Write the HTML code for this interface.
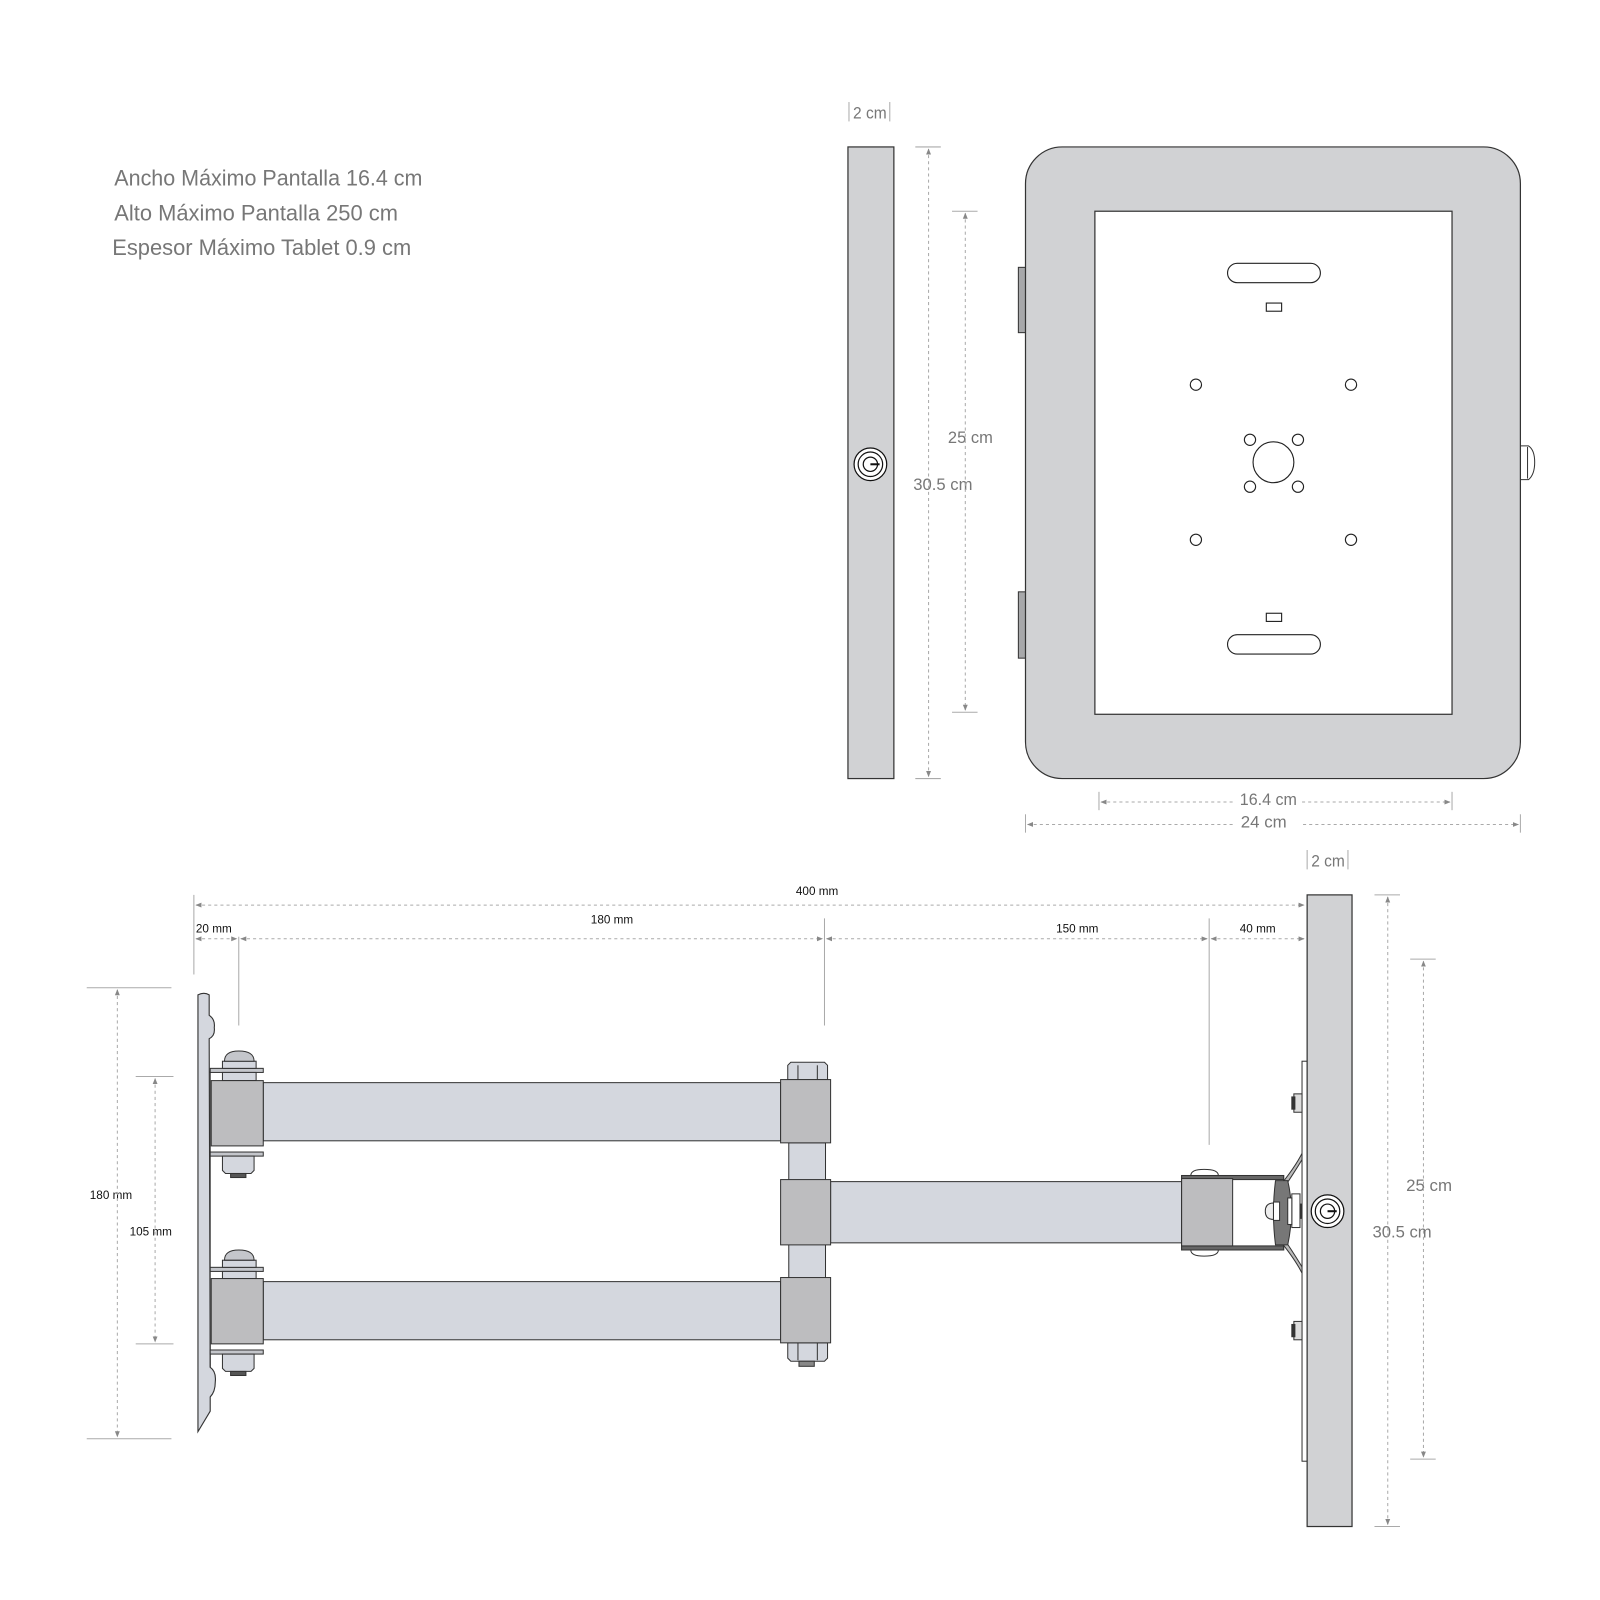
<!DOCTYPE html>
<html><head><meta charset="utf-8"><style>html,body{margin:0;padding:0;background:#fff}svg{display:block}</style></head>
<body>
<svg width="1600" height="1600" viewBox="0 0 1600 1600" xmlns="http://www.w3.org/2000/svg">
<defs>
<marker id="a" viewBox="0 0 10 10" refX="9" refY="5" markerWidth="6" markerHeight="6" orient="auto-start-reverse"><path d="M0,1 L10,5 L0,9 z" fill="#888"/></marker>
</defs>
<g transform="scale(1.0204)">
<g font-family="Liberation Sans, sans-serif" fill="#777" font-size="22">
<text x="112" y="182" textLength="302" lengthAdjust="spacingAndGlyphs">Ancho Máximo Pantalla 16.4 cm</text>
<text x="112" y="216" textLength="278" lengthAdjust="spacingAndGlyphs">Alto Máximo Pantalla  250 cm</text>
<text x="110" y="250" textLength="293" lengthAdjust="spacingAndGlyphs">Espesor Máximo Tablet  0.9 cm</text>
</g>
<g font-family="Liberation Sans, sans-serif" fill="#777" font-size="16">
<text x="836" y="116" textLength="33" lengthAdjust="spacingAndGlyphs">2 cm</text>
<text x="929" y="434" textLength="44" lengthAdjust="spacingAndGlyphs">25 cm</text>
<text x="895" y="480" textLength="58" lengthAdjust="spacingAndGlyphs">30.5 cm</text>
<text x="1215" y="789" textLength="56" lengthAdjust="spacingAndGlyphs">16.4 cm</text>
<text x="1216" y="811" textLength="45" lengthAdjust="spacingAndGlyphs">24 cm</text>
<text x="1285" y="849" textLength="33" lengthAdjust="spacingAndGlyphs">2 cm</text>
<text x="1378" y="1167" textLength="45" lengthAdjust="spacingAndGlyphs">25 cm</text>
<text x="1345" y="1213" textLength="58" lengthAdjust="spacingAndGlyphs">30.5 cm</text>
</g>
<g font-family="Liberation Sans, sans-serif" fill="#111" font-size="11.5">
<text x="780" y="877">400 mm</text>
<text x="579" y="905">180 mm</text>
<text x="192" y="914">20 mm</text>
<text x="1035" y="914">150 mm</text>
<text x="1215" y="914">40 mm</text>
<text x="88" y="1175">180 mm</text>
<text x="127" y="1211">105 mm</text>
</g>
<g stroke="#aaa" stroke-width="1">
<line x1="832" y1="100" x2="832" y2="119"/><line x1="872" y1="100" x2="872" y2="119"/>
<line x1="1281" y1="833" x2="1281" y2="852"/><line x1="1321" y1="833" x2="1321" y2="852"/>
<line x1="897" y1="144" x2="922" y2="144"/><line x1="897" y1="763" x2="922" y2="763"/>
<line x1="933" y1="207" x2="958" y2="207"/><line x1="933" y1="698" x2="958" y2="698"/>
<line x1="1077" y1="776" x2="1077" y2="794"/><line x1="1423" y1="776" x2="1423" y2="794"/>
<line x1="1005" y1="798" x2="1005" y2="816"/><line x1="1490" y1="798" x2="1490" y2="816"/>
<line x1="1347" y1="877" x2="1372" y2="877"/><line x1="1347" y1="1496" x2="1372" y2="1496"/>
<line x1="1382" y1="940" x2="1407" y2="940"/><line x1="1382" y1="1430" x2="1407" y2="1430"/>
<line x1="190" y1="877" x2="190" y2="955"/><line x1="234" y1="918" x2="234" y2="1005"/>
<line x1="808" y1="900" x2="808" y2="1005"/><line x1="1185" y1="900" x2="1185" y2="1122"/>
<line x1="85" y1="968" x2="168" y2="968"/><line x1="85" y1="1410" x2="168" y2="1410"/>
<line x1="133" y1="1055" x2="170" y2="1055"/><line x1="133" y1="1317" x2="170" y2="1317"/>
</g>
<g stroke="#aaa" stroke-width="1" stroke-dasharray="3,3" fill="none">
<line x1="910" y1="146" x2="910" y2="761" marker-start="url(#a)" marker-end="url(#a)"/>
<line x1="946" y1="209" x2="946" y2="696" marker-start="url(#a)" marker-end="url(#a)"/>
<line x1="1079" y1="786" x2="1210" y2="786" marker-start="url(#a)"/>
<line x1="1276" y1="786" x2="1421" y2="786" marker-end="url(#a)"/>
<line x1="1007" y1="808" x2="1210" y2="808" marker-start="url(#a)"/>
<line x1="1277" y1="808" x2="1488" y2="808" marker-end="url(#a)"/>
<line x1="1360" y1="879" x2="1360" y2="1494" marker-start="url(#a)" marker-end="url(#a)"/>
<line x1="1395" y1="942" x2="1395" y2="1428" marker-start="url(#a)" marker-end="url(#a)"/>
<line x1="192" y1="887" x2="1278" y2="887" marker-start="url(#a)" marker-end="url(#a)"/>
<line x1="192" y1="920" x2="232" y2="920" marker-start="url(#a)" marker-end="url(#a)"/>
<line x1="236" y1="920" x2="806" y2="920" marker-start="url(#a)" marker-end="url(#a)"/>
<line x1="810" y1="920" x2="1183" y2="920" marker-start="url(#a)" marker-end="url(#a)"/>
<line x1="1187" y1="920" x2="1278" y2="920" marker-start="url(#a)" marker-end="url(#a)"/>
<line x1="115" y1="970" x2="115" y2="1408" marker-start="url(#a)" marker-end="url(#a)"/>
<line x1="152" y1="1057" x2="152" y2="1315" marker-start="url(#a)" marker-end="url(#a)"/>
</g>
<rect x="831" y="144" width="45" height="619" fill="#d1d2d4" stroke="#333" stroke-width="1.2"/>
<g fill="none" stroke="#111" stroke-width="1.2">
<circle cx="853" cy="455" r="16" fill="#fff"/><circle cx="853" cy="455" r="12"/><circle cx="853" cy="455" r="7"/>
<line x1="853" y1="455" x2="862" y2="455" stroke-width="2"/>
</g>
<rect x="998" y="262" width="7" height="64" fill="#a7a8aa" stroke="#333"/>
<rect x="998" y="580" width="7" height="65" fill="#a7a8aa" stroke="#333"/>
<path d="M1490,437 h8 q6,4 6,16 q0,12 -6,17 h-8 z" fill="#fff" stroke="#333"/>
<line x1="1497" y1="438" x2="1497" y2="469" stroke="#333"/>
<rect x="1005" y="144" width="485" height="619" rx="36" fill="#d1d2d4" stroke="#333" stroke-width="1.2"/>
<rect x="1073" y="207" width="350" height="493" fill="#fff" stroke="#333" stroke-width="1.2"/>
<g fill="none" stroke="#222" stroke-width="1.1">
<rect x="1203" y="258" width="91" height="19" rx="9.5"/>
<rect x="1203" y="622" width="91" height="19" rx="9.5"/>
<rect x="1241" y="297" width="15" height="8"/>
<rect x="1241" y="601" width="15" height="8"/>
<circle cx="1172" cy="377" r="5.5"/><circle cx="1324" cy="377" r="5.5"/>
<circle cx="1172" cy="529" r="5.5"/><circle cx="1324" cy="529" r="5.5"/>
<circle cx="1248" cy="453" r="20"/>
<circle cx="1225" cy="431" r="5.5"/><circle cx="1272" cy="431" r="5.5"/>
<circle cx="1225" cy="477" r="5.5"/><circle cx="1272" cy="477" r="5.5"/>
</g>
<path d="M194,975 q6,-3 11,0 l0,20 q6,4 5,12 q1,8 -5,11 L206,1340 q6,4 5,14 q0,10 -5,15 L206,1383 L194,1403 Z" fill="#d4d7de" stroke="#333" stroke-width="1.1"/>
<line x1="206" y1="1050" x2="206" y2="1340" stroke="#333"/>
<g stroke="#333" stroke-width="1">
<rect x="206" y="1047" width="52" height="4" fill="#c4c6cb"/>
<rect x="206" y="1129" width="52" height="4" fill="#c4c6cb"/>
<rect x="218" y="1040" width="33" height="7" fill="#d4d7de"/>
<path d="M220,1040 q0,-10 14,-10 q15,0 15,10 z" fill="#c4c6cb"/>
<rect x="218" y="1051" width="33" height="8" fill="#d4d7de"/>
<path d="M218,1133 h31 v14 l-3,3 h-25 l-3,-3 z" fill="#d4d7de"/>
<rect x="226" y="1150" width="15" height="4" fill="#555"/>
<rect x="206" y="1242" width="52" height="4" fill="#c4c6cb"/>
<rect x="206" y="1323" width="52" height="4" fill="#c4c6cb"/>
<rect x="218" y="1235" width="33" height="7" fill="#d4d7de"/>
<path d="M220,1235 q0,-10 14,-10 q15,0 15,10 z" fill="#c4c6cb"/>
<rect x="218" y="1246" width="33" height="7" fill="#d4d7de"/>
<path d="M218,1327 h31 v14 l-3,3 h-25 l-3,-3 z" fill="#d4d7de"/>
<rect x="226" y="1344" width="15" height="4" fill="#555"/>
<rect x="258" y="1061" width="507" height="57" fill="#d4d7de"/>
<rect x="258" y="1256" width="507" height="57" fill="#d4d7de"/>
<rect x="773" y="1120" width="36" height="134" fill="#d4d7de"/>
<rect x="814" y="1158" width="344" height="60" fill="#d4d7de"/>
<rect x="207" y="1059" width="51" height="64" fill="#bdbdbf"/>
<rect x="207" y="1253" width="51" height="64" fill="#bdbdbf"/>
<path d="M772,1058 v-14 l3,-3 h33 l3,3 v14 z" fill="#d4d7de"/>
<line x1="782" y1="1044" x2="782" y2="1058"/><line x1="801" y1="1044" x2="801" y2="1058"/>
<path d="M772,1316 v15 l3,3 h33 l3,-3 v-15 z" fill="#d4d7de"/>
<line x1="782" y1="1316" x2="782" y2="1333"/><line x1="801" y1="1316" x2="801" y2="1333"/>
<rect x="783" y="1334" width="15" height="5" fill="#888"/>
<rect x="765" y="1058" width="49" height="62" fill="#bdbdbf"/>
<rect x="765" y="1156" width="49" height="64" fill="#bdbdbf"/>
<rect x="765" y="1252" width="49" height="64" fill="#bdbdbf"/>
<path d="M1167,1152 q0,-6 13,-6 q14,0 14,6 z" fill="#fff"/>
<path d="M1167,1225 q0,6 13,6 q14,0 14,-6 z" fill="#fff"/>
<rect x="1158" y="1152" width="100" height="73" fill="#fff"/>
<rect x="1158" y="1152" width="100" height="4" fill="#666"/>
<rect x="1158" y="1221" width="100" height="4" fill="#666"/>
<rect x="1158" y="1155" width="50" height="66" fill="#bdbdbf"/>
<path d="M1256,1160 q16,-20 22,-34 l3,2 q-8,14 -20,32 z" fill="#bbb"/>
<path d="M1256,1218 q16,20 22,34 l3,-2 q-8,-14 -20,-32 z" fill="#bbb"/>
<path d="M1250,1157 h12 q7,30 0,63 h-12 q-4,-31 0,-63 z" fill="#777"/>
<rect x="1266" y="1170" width="8" height="33" fill="#fff"/>
<rect x="1262" y="1174" width="4" height="26" fill="#fff"/>
<rect x="1248" y="1178" width="6" height="18" fill="#fff"/>
<path d="M1248,1179 q-8,0 -8,8 q0,8 8,8 z" fill="#eee"/>
<rect x="1274" y="1180" width="4" height="14" fill="#333"/>
<rect x="1276" y="1040" width="5" height="392" fill="#fff"/>
<rect x="1268" y="1072" width="8" height="18" fill="#ddd"/>
<rect x="1266" y="1075" width="3" height="12" fill="#333"/>
<rect x="1268" y="1295" width="8" height="18" fill="#ddd"/>
<rect x="1266" y="1298" width="3" height="12" fill="#333"/>
</g>
<rect x="1281" y="877" width="44" height="619" fill="#d1d2d4" stroke="#333" stroke-width="1.2"/>
<g fill="none" stroke="#111" stroke-width="1.2">
<circle cx="1301" cy="1187" r="16" fill="#fff"/><circle cx="1301" cy="1187" r="12"/><circle cx="1301" cy="1187" r="7"/>
<line x1="1301" y1="1187" x2="1310" y2="1187" stroke-width="2"/>
</g>
</g>
</svg>
</body></html>
